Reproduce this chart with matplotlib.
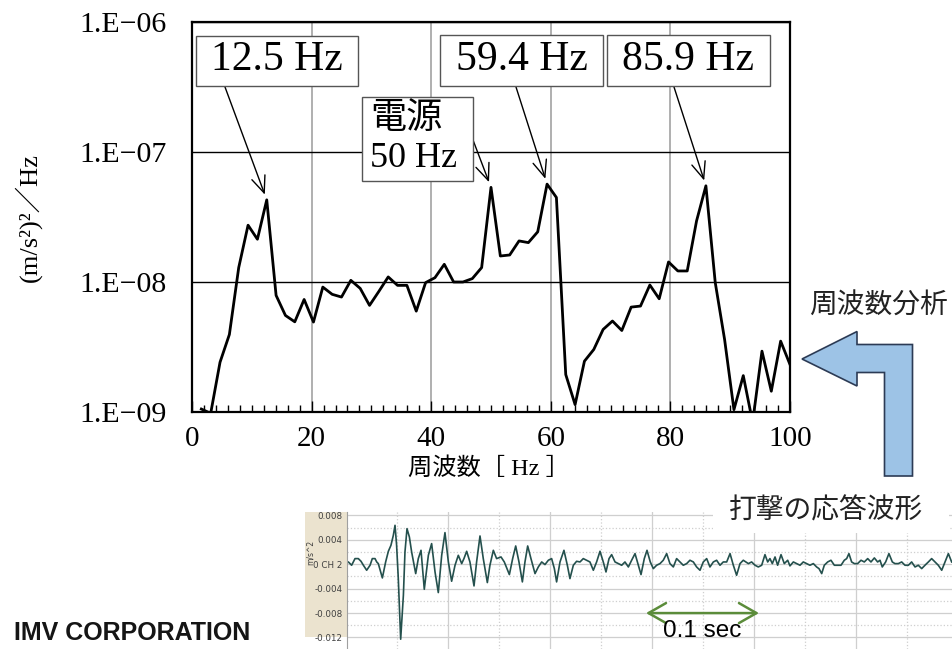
import numpy as np
import matplotlib
matplotlib.use("Agg")
import matplotlib.pyplot as plt
from matplotlib.patches import Rectangle, Polygon
from matplotlib.ticker import MultipleLocator, FixedLocator, FuncFormatter, NullLocator

# ---------------- data ----------------
# Acceleration power spectral density, FFT bin width 100/64 Hz
bin_width = 100.0 / 64
psd_freq = bin_width * np.arange(1, 65)
psd_value = [
    1.054e-9, 9.77e-10, 2.415e-9, 3.945e-9, 1.291e-8, 2.735e-8, 2.133e-8, 4.285e-8,
    7.89e-9, 5.53e-9, 4.94e-9, 7.34e-9, 4.92e-9, 9.14e-9, 8.04e-9, 7.66e-9,
    1.030e-8, 8.93e-9, 6.61e-9, 8.47e-9, 1.094e-8, 9.42e-9, 9.42e-9, 5.97e-9,
    9.89e-9, 1.079e-8, 1.368e-8, 1.000e-8, 1.000e-8, 1.062e-8, 1.291e-8, 5.346e-8,
    1.585e-8, 1.614e-8, 2.070e-8, 2.009e-8, 2.432e-8, 5.662e-8, 4.467e-8, 1.941e-9,
    1.140e-9, 2.460e-9, 3.027e-9, 4.315e-9, 5.01e-9, 4.236e-9, 6.41e-9, 6.53e-9,
    9.48e-9, 7.43e-9, 1.426e-8, 1.216e-8, 1.216e-8, 2.951e-8, 5.495e-8, 9.89e-9,
    3.614e-9, 1.042e-9, 1.905e-9, 8.32e-10, 2.938e-9, 1.445e-9, 3.508e-9, 2.317e-9,
]

# Labelled peaks: (bin index, box text)
peak_bins = [8, 38, 55]
peak_labels = ["12.5 Hz", "59.4 Hz", "85.9 Hz"]
mains_bin = 32
mains_label = "電源\n50 Hz"

x_ticks = [0, 20, 40, 60, 80, 100]
y_ticks = [1e-9, 1e-8, 1e-7, 1e-6]

# Hammer impact response waveform: time [ms], acceleration [1e-3 m/s^2]
wave_t = [
    0.0, 1.2, 4.1, 7.1, 10.0, 12.4, 14.5, 17.4, 20.4, 22.4, 24.8, 26.3, 27.7, 31.3,
    34.2, 36.6, 38.9, 41.0, 42.5, 43.9, 45.4, 47.5, 49.9, 51.3, 53.1, 55.2, 57.2,
    60.8, 63.1, 65.5, 68.4, 72.0, 74.9, 77.9, 80.8, 83.8, 86.7, 89.7, 92.6, 95.6,
    98.5, 101.5, 103.5, 105.9, 108.8, 112.4, 114.7, 117.7, 120.6, 124.2, 126.5,
    129.5, 132.4, 136.3, 139.2, 143.7, 146.6, 149.3, 152.2, 155.2, 157.5, 159.9,
    162.8, 166.4, 169.3, 172.3, 175.2,
    178.2, 181.1, 183.5, 185.5, 188.5, 192.0, 195.0, 197.3, 200.3, 203.2, 206.2,
    209.1, 212.1, 215.0, 218.0, 220.9, 223.9, 226.8, 229.2, 231.9, 234.2, 237.2,
    240.1, 243.1, 246.0, 249.0, 251.9, 254.9, 257.8, 260.2, 263.1, 265.5, 268.4,
    271.1, 274.0, 277.0, 279.9, 282.9, 285.8, 288.8, 291.7, 294.7, 297.6, 300.6,
    303.5, 306.5, 309.4, 312.4, 315.3, 318.3, 321.2, 324.2, 327.1, 330.1, 333.0,
    336.0, 339.0, 341.9, 344.8, 347.8, 350.7,
    355.2, 358.1, 361.1, 364.0, 367.0, 369.9, 372.3, 374.3, 376.4, 378.8, 381.1,
    384.1, 387.0, 390.0, 392.0, 395.0, 397.9, 400.9, 403.8, 406.8, 409.7, 412.7,
    415.6, 417.7, 420.1, 422.4, 425.4, 428.3, 431.3, 434.2, 437.2, 440.1, 442.2,
    444.2, 446.6, 449.0, 451.9, 454.9, 457.8, 460.8, 463.7, 466.7, 469.6, 471.7,
    473.7, 476.7, 479.6, 482.6, 484.9, 487.9, 490.9, 493.8, 496.8, 499.7, 502.7,
    505.6, 508.6, 511.5, 514.5, 517.4, 520.4, 523.3, 526.3, 529.2, 532.2, 535.1,
]
wave_acc = [
    0.38, 0.38, -0.16, 0.93, 0.93, 0.49, -0.16, -0.98, -0.16, 0.93, 0.93, 0.38, 0.11,
    -2.24, 0.38, 2.13, 3.11, 4.75, 6.39, 3.11, -2.35, -12.29, -5.08, 2.02, 5.84, 4.48,
    2.02, -1.53, 0.93, 2.29, -4.10, 1.47, 3.39, -1.26, -4.64, 1.47, 5.19, 0.38, -2.78,
    -0.16, 1.47, 0.11, 0.93, 2.13, 0.38, -3.55, 0.38, 4.64, 0.93, -3.00, -0.16, 2.29,
    0.93, 1.20, 0.38, -1.69, 0.93, 3.00, 0.38, -2.89, 0.38, 3.00, 0.93, -1.53, -0.44,
    0.38, -0.05,
    0.66, 0.93, -0.71, -2.89, 0.38, 2.29, -0.16, -2.35, -0.16, 0.49, 0.38, 0.93, 0.66,
    0.38, -0.98, 0.38, 2.13, 0.38, -1.26, 0.93, 1.58, 0.38, 0.11, -0.16, 0.38, -0.44,
    0.66, 1.75, -0.16, -1.69, 0.93, 2.29, 0.38, -0.71, -0.16, 0.11, 0.66, 1.75, 0.11,
    -0.44, 0.93, 0.38, -0.16, 0.11, 0.66, 0.38, -0.44, -0.98, 0.38, 0.93, -0.44, 0.38,
    0.66, -0.16, 0.38, 0.38, 1.75, -0.16, -1.80, 0.11, 0.66,
    0.11, 0.38, -0.16, -0.44, -0.16, 1.58, 0.38, 0.93, 0.11, 1.20, -0.16, 1.58, 0.11,
    0.66, -0.27, 0.38, 0.11, -0.16, 0.38, 0.11, -0.16, 0.11, -0.44, -0.71, -1.53,
    -0.16, 0.38, 0.66, -0.16, -0.16, -0.16, 0.66, 0.93, 1.75, 0.38, 0.11, 0.11, 0.66,
    0.38, 0.93, 0.38, 1.04, 0.38, 0.66, -0.44, 0.38, 1.75, 0.38, 0.11, 0.11, 0.38,
    -0.16, -0.16, 0.38, -0.44, -0.16, -0.71, -0.16, 0.38, 0.93, 0.38, -0.16, -0.98,
    0.38, 1.75, 0.38,
]
wave_ticks = [0.008, 0.004, 0.0, -0.004, -0.008, -0.012]
wave_tick_labels = ["0.008", "0.004", "0 CH 2", "-0.004", "-0.008", "-0.012"]
scale_bar_ms = 100.0   # length of the "0.1 sec" marker

# ---------------- figure ----------------
W, H = 953, 649
fig = plt.figure(figsize=(W / 100, H / 100), dpi=100)
fig.patch.set_facecolor("white")

SERIF = ["Liberation Serif", "Noto Sans CJK JP"]
CJK = ["Noto Sans CJK JP", "DejaVu Sans"]


def fxy(x, y):
    """pixel position (from top-left) -> figure fraction"""
    return x / W, 1 - y / H


# ---- spectrum axes ----
ax = fig.add_axes([192 / W, 1 - 412 / H, (790 - 192) / W, (412 - 22) / H])
ax.set_yscale("log")
ax.set_xlim(0, 100)
ax.set_ylim(1e-9, 1e-6)
ax.plot(psd_freq, psd_value, color="black", lw=2.0, zorder=3)

ax.xaxis.set_major_locator(FixedLocator(x_ticks))
ax.xaxis.set_minor_locator(MultipleLocator(2))
ax.yaxis.set_major_locator(FixedLocator(y_ticks))
ax.yaxis.set_minor_locator(NullLocator())
ax.yaxis.set_major_formatter(
    FuncFormatter(lambda v, p: "1.E\u2212%02d" % int(round(-np.log10(v)))))
ax.tick_params(axis="x", which="major", direction="in", length=8, width=1,
               pad=10, labelsize=21)
ax.tick_params(axis="x", which="minor", direction="in", length=5, width=1)
ax.tick_params(axis="y", which="both", length=0, pad=18, labelsize=21.5)
for lab in ax.get_xticklabels() + ax.get_yticklabels():
    lab.set_family(SERIF)

ax.grid(axis="y", which="major", color="black", lw=1.0, zorder=1)
ax.grid(axis="x", which="major", color="#9a9a9a", lw=1.1, zorder=1)
for sp in ax.spines.values():
    sp.set_linewidth(1.6)
    sp.set_color("black")

fig.text(*fxy(28, 217), "(m/s²)²／Hz", rotation=90, ha="center", va="center",
         fontsize=19, family=SERIF)
fig.text(*fxy(489, 468), "周波数［ Hz ］", ha="center", va="center",
         fontsize=17.5, family=SERIF)

# ---- peak labels ----
arrow_kw = dict(arrowstyle="->,head_length=0.6,head_width=0.25", color="black",
                lw=1.0, shrinkA=0, shrinkB=4, mutation_scale=20)

label_boxes = [(196, 36, 358, 86), (440, 35, 603, 86), (607, 35, 770, 86)]
arrow_starts = [(225, 87), (516, 87), (674, 87)]
for b, text, box, start in zip(peak_bins, peak_labels, label_boxes, arrow_starts):
    x0, y0, x1, y1 = box
    fig.patches.append(Rectangle(fxy(x0, y1), (x1 - x0) / W, (y1 - y0) / H,
                                 transform=fig.transFigure, facecolor="white",
                                 edgecolor="#555555", lw=1.0, zorder=5))
    fig.text(*fxy((x0 + x1) / 2, (y0 + y1) / 2 - 1), text, ha="center", va="center",
             fontsize=30, family=SERIF, zorder=6)
    ax.annotate("", xy=(psd_freq[b - 1], psd_value[b - 1]), xycoords="data",
                xytext=fxy(*start), textcoords="figure fraction",
                arrowprops=arrow_kw, zorder=4)

x0, y0, x1, y1 = 362, 97, 473, 181
fig.patches.append(Rectangle(fxy(x0, y1), (x1 - x0) / W, (y1 - y0) / H,
                             transform=fig.transFigure, facecolor="white",
                             edgecolor="#555555", lw=1.0, zorder=5))
fig.text(*fxy(370, 139), mains_label, ha="left", va="center", fontsize=26,
         family=SERIF, linespacing=1.25, zorder=6)
ax.annotate("", xy=(psd_freq[mains_bin - 1], psd_value[mains_bin - 1]),
            xycoords="data", xytext=fxy(473, 140), textcoords="figure fraction",
            arrowprops=arrow_kw, zorder=4)

# ---- bent arrow from waveform to spectrum ----
bend = [(802, 359), (857, 331.5), (857, 344.5), (912.5, 344.5), (912.5, 476),
        (884.5, 476), (884.5, 372.5), (857, 372.5), (857, 386)]
fig.patches.append(Polygon([fxy(x, y) for x, y in bend], closed=True,
                           transform=fig.transFigure, facecolor="#9dc3e6",
                           edgecolor="#2c3b55", lw=1.2, zorder=5))
fig.text(*fxy(878, 306), "周波数分析", ha="center", va="center", fontsize=20,
         family=CJK, color="#222222")

# ---- waveform inset ----
fig.patches.append(Rectangle(fxy(305, 637), (347 - 305) / W, (637 - 512) / H,
                             transform=fig.transFigure, facecolor="#ebe3cf",
                             edgecolor="none", zorder=-1))
axw = fig.add_axes([347 / W, 0, (953 - 347) / W, (649 - 512) / H])
axw.set_xlim(0, 536.3)
axw.set_ylim(-0.01389, 0.00857)
for v in np.arange(-0.012, 0.0081, 0.002):
    solid = int(round(v / 0.002)) % 2 == 0
    axw.axhline(v, color="#cfcfcf", lw=0.9, ls="-" if solid else ":", zorder=0)
for k, t in enumerate(np.arange(44.0, 536.3, 45.2)):
    axw.axvline(t, color="#cfcfcf", lw=0.9, ls=":" if k % 2 == 0 else "-", zorder=0)
axw.plot(wave_t, np.array(wave_acc) * 1e-3, color="#24504d", lw=1.2, zorder=2)
axw.set_yticks(wave_ticks)
axw.set_yticklabels(wave_tick_labels)
axw.set_xticks([])
axw.tick_params(axis="y", length=0, pad=3, labelsize=6.3, labelcolor="#404040")
for sp in ["top", "right", "bottom"]:
    axw.spines[sp].set_visible(False)
axw.spines["left"].set_color("#a0a0a0")
axw.spines["left"].set_linewidth(0.8)
axw.patch.set_alpha(0)
fig.text(*fxy(310, 552), "m/s^2", rotation=90, ha="center", va="center",
         fontsize=5.5, color="#404040")

t0 = 264.6
axw.annotate("", xy=(t0, -0.008), xytext=(t0 + scale_bar_ms, -0.008),
             arrowprops=dict(arrowstyle="<->,head_length=0.7,head_width=0.4",
                             color="#5b8c3a", lw=1.8, shrinkA=0, shrinkB=0,
                             mutation_scale=18))
axw.text(t0 + scale_bar_ms / 2, -0.0109, "0.1 sec", ha="center", va="center",
         fontsize=17.5, family="Liberation Sans", color="black")

# caption box over the top-right corner of the inset
fig.patches.append(Rectangle(fxy(713, 533), (949 - 713) / W, (533 - 488) / H,
                             transform=fig.transFigure, facecolor="white",
                             edgecolor="none", zorder=5))
fig.text(*fxy(826, 510), "打撃の応答波形", ha="center", va="center", fontsize=20,
         family=CJK, color="#222222", zorder=6)

fig.text(*fxy(14, 621), "IMV CORPORATION", ha="left", va="top", fontsize=18,
         family="Liberation Sans", fontweight="bold", color="#151515")

fig.savefig("out.png", dpi=100)
